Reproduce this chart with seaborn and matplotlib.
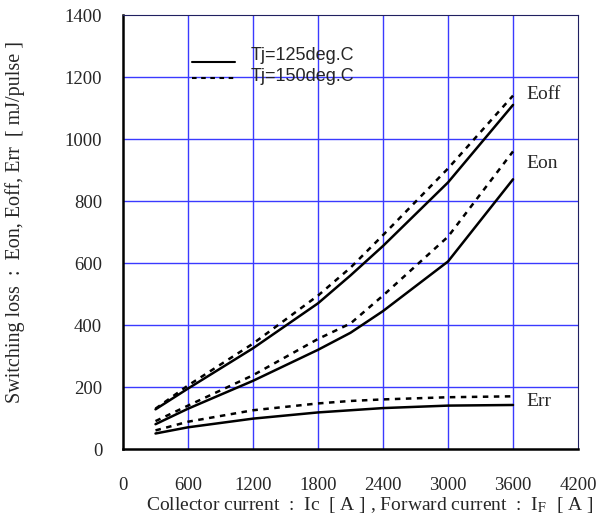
import numpy as np
import pandas as pd
import matplotlib
matplotlib.use("Agg")
import matplotlib.pyplot as plt
import seaborn as sns

# ------------------------
# DATA
# ------------------------

current = [300, 600, 1200, 1800, 2100, 2400, 3000, 3600]

eoff_125 = [128, 195, 325, 470, 560, 655, 860, 1110]
eoff_150 = [130, 205, 340, 495, 585, 690, 905, 1140]
eon_125 = [80, 130, 220, 320, 375, 445, 605, 870]
eon_150 = [90, 140, 238, 355, 405, 495, 685, 960]
err_125 = [50, 70, 98, 118, 125, 132, 140, 142]
err_150 = [60, 88, 125, 147, 155, 160, 167, 170]

curve_names = ["Eoff", "Eon", "Err"]
x_ticks = [0, 600, 1200, 1800, 2400, 3000, 3600, 4200]
y_ticks = [0, 200, 400, 600, 800, 1000, 1200, 1400]

# ------------------------
# PLOT
# ------------------------

sns.set_style("white")
plt.rcParams["font.family"] = ["Liberation Serif", "DejaVu Serif"]
plt.rcParams["mathtext.fontset"] = "stix"

fig = plt.figure(figsize=(5.98, 5.18), dpi=100)
ax = fig.add_axes([0.2057, 0.1332, 0.7609, 0.8378])

grid_color = "#3a3aff"
for xv in x_ticks[1:-1]:
    ax.axvline(xv, color=grid_color, lw=1.0, zorder=0)
for yv in y_ticks[1:-1]:
    ax.axhline(yv, color=grid_color, lw=1.0, zorder=0)

series_125 = [eoff_125, eon_125, err_125]
series_150 = [eoff_150, eon_150, err_150]

for vals in series_125:
    sns.lineplot(x=current, y=vals, ax=ax, color="black", lw=1.8)
for vals in series_150:
    sns.lineplot(x=current, y=vals, ax=ax, color="black", lw=1.8,
                 linestyle=(0, (2.2, 2.2)))

label_y = [1142, 922, 152]
for name, yv in zip(curve_names, label_y):
    ax.text(3720, yv, name, fontsize=14, va="center", ha="left")

# legend drawn by hand, like the original figure
ax.plot([640, 1035], [1248, 1248], color="black", lw=1.5)
ax.plot([640, 1035], [1197, 1197], color="black", lw=1.5, linestyle=(0, (2.2, 2.2)))
ax.text(1175, 1268, "Tj=125deg.C", fontsize=13, va="center", family="Liberation Sans")
ax.text(1175, 1203, "Tj=150deg.C", fontsize=13, va="center", family="Liberation Sans")

ax.set_xlim(0, 4200)
ax.set_ylim(0, 1400)
ax.set_xticks(x_ticks)
ax.set_yticks(y_ticks)
ax.tick_params(axis="both", labelsize=13.5, direction="in", length=3, width=1)
ax.tick_params(axis="x", pad=20)
ax.tick_params(axis="y", pad=15)

for side in ["left", "bottom"]:
    ax.spines[side].set_linewidth(1.8)
    ax.spines[side].set_color("black")
ax.spines["top"].set_color("#202060")
ax.spines["right"].set_color("#202060")

ax.set_xlabel("Collector current  :  Ic  [ A ] , Forward current  :  I$_{\\rm F}$  [ A ]",
              fontsize=14)
ax.set_ylabel("Switching loss  :  Eon, Eoff, Err  [ mJ/pulse ]", fontsize=14.5)
ax.xaxis.set_label_coords(0.543, -0.107)
ax.yaxis.set_label_coords(-0.215, 0.523)

fig.savefig("out.png", dpi=100)
